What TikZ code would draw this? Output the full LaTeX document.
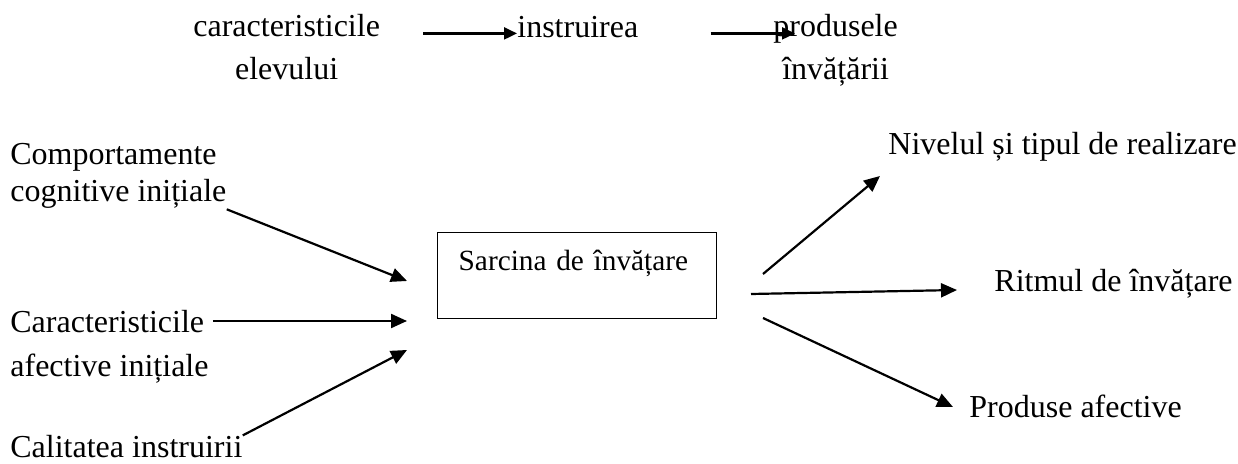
\documentclass[tikz,border=0pt]{standalone}
\usepackage{fontspec}
\setmainfont{Liberation Serif}
\usepackage{tikz}
\usetikzlibrary{arrows.meta}
\tikzset{
    lbl/.style={inner sep=0pt, anchor=base west, font=\fontsize{16}{21.5}\selectfont},
    arr/.style={-{Triangle[length=8pt,width=7pt]}, line width=1.1pt},
    toparr/.style={-{Triangle[length=6.5pt,width=6pt]}, line width=1.1pt},
    taskbox/.style={draw, line width=0.7pt, anchor=north west, inner xsep=10.5pt, inner ysep=0pt,
        text width=118.5pt, align=left, text height=19pt, text depth=24pt,
        font=\fontsize{14.65}{18}\selectfont},
}
\begin{document}
\begin{tikzpicture}[x=0.5pt,y=-0.5pt]
\useasboundingbox (0,0) rectangle (1238,464);
% top row (base = last line)
\node[lbl, align=center] (car) at (193,80) {caracteristicile\\elevului};
\node[lbl] (instr) at (517,38) {instruirea};
\node[lbl, align=center] (prod) at (773,80) {produsele\\învățării};
\draw[toparr, shorten <=21.5pt] (car.east |- instr.mid) -- (instr.mid west);
\draw[toparr, shorten <=36pt, shorten >=-11pt] (instr.mid east) -- (prod.west |- instr.mid);

% inputs
\node[lbl, align=left, font=\fontsize{16}{18.5}\selectfont] (comp) at (10,202) {Comportamente\\cognitive inițiale};
\node[lbl, align=left, font=\fontsize{16}{22}\selectfont] (carac) at (10,377) {Caracteristicile\\afective inițiale};
\node[lbl] (cal) at (10,458) {Calitatea instruirii};

% task
\node[taskbox] (task) at (437,232) {Sarcina de învățare};

% outputs
\node[lbl] (niv) at (888,155) {Nivelul și tipul de realizare};
\node[lbl] (ritm) at (994,292) {Ritmul de învățare};
\node[lbl] (prodaf) at (969,418) {Produse afective};

\coordinate (in1) at (407,281);
\coordinate (in2) at (407,321);
\coordinate (in3) at (407,350);
\coordinate (out1) at (763,274);
\coordinate (out2) at (751,294);
\coordinate (out3) at (763,318);
\coordinate (tip1) at (880,176);
\coordinate (tip2) at (957,290);
\coordinate (tip3) at (953,407);

\draw[arr] (comp.south east) -- (in1);
\draw[arr] ([xshift=2pt]carac.east |- in2) -- (in2);
\draw[arr] (cal.north east) -- (in3);

\draw[arr] (out1) -- (tip1);
\draw[arr] (out2) -- (tip2);
\draw[arr] (out3) -- (tip3);
\end{tikzpicture}
\end{document}
